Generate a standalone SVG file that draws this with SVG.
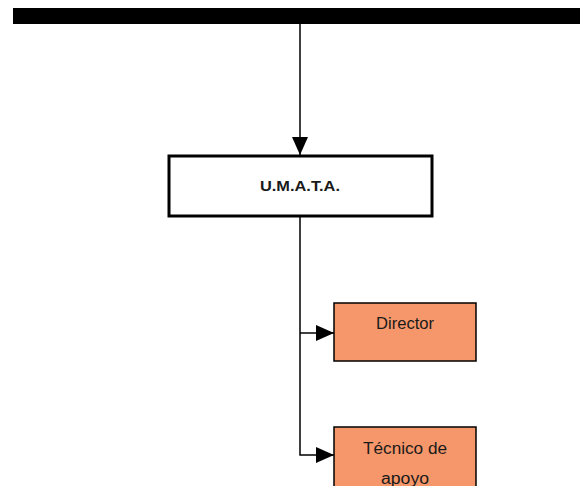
<svg xmlns="http://www.w3.org/2000/svg" width="580" height="486" viewBox="0 0 580 486">
<style>
.ln{stroke:#000;stroke-width:1.5;fill:none}
.box{fill:#fff;stroke:#000;stroke-width:3}
.org{fill:#F5976A;stroke:#000;stroke-width:1.5}
.t{font-family:"Liberation Sans",Arial,sans-serif;font-size:16px;fill:#1a1a1a;text-anchor:middle}
.b{font-weight:bold;font-size:15px}
</style>
<defs>
<marker id="arL" markerWidth="18" markerHeight="16" refX="18" refY="8" orient="auto" markerUnits="userSpaceOnUse" viewBox="0 0 18 16">
<path d="M0,0 L18,8 L0,16 z" fill="#000"/>
</marker>
</defs>
<rect x="0" y="0" width="580" height="486" fill="#fff"/>
<g id="topbar"><rect x="13" y="8" width="567" height="16" fill="#000"/></g>
<g id="connectors">
<line class="ln" x1="300" y1="24" x2="300" y2="155" marker-end="url(#arL)"/>
<polyline class="ln" points="300,217 300,455 334,455" marker-end="url(#arL)"/>
<line class="ln" x1="300" y1="333" x2="334" y2="333" marker-end="url(#arL)"/>
</g>
<g id="umata">
<rect class="box" x="169" y="156" width="263" height="60"/>
<text class="t b" x="300" y="191" textLength="80" lengthAdjust="spacingAndGlyphs">U.M.A.T.A.</text>
</g>
<g id="director">
<rect class="org" x="334" y="303" width="142" height="58"/>
<text class="t" x="405" y="329" textLength="58" lengthAdjust="spacingAndGlyphs">Director</text>
</g>
<g id="tecnico">
<rect class="org" x="334" y="427" width="142" height="70"/>
<text class="t" x="405" y="454" textLength="84" lengthAdjust="spacingAndGlyphs">Técnico de</text>
<text class="t" x="405" y="484" textLength="48" lengthAdjust="spacingAndGlyphs">apoyo</text>
</g>
</svg>
